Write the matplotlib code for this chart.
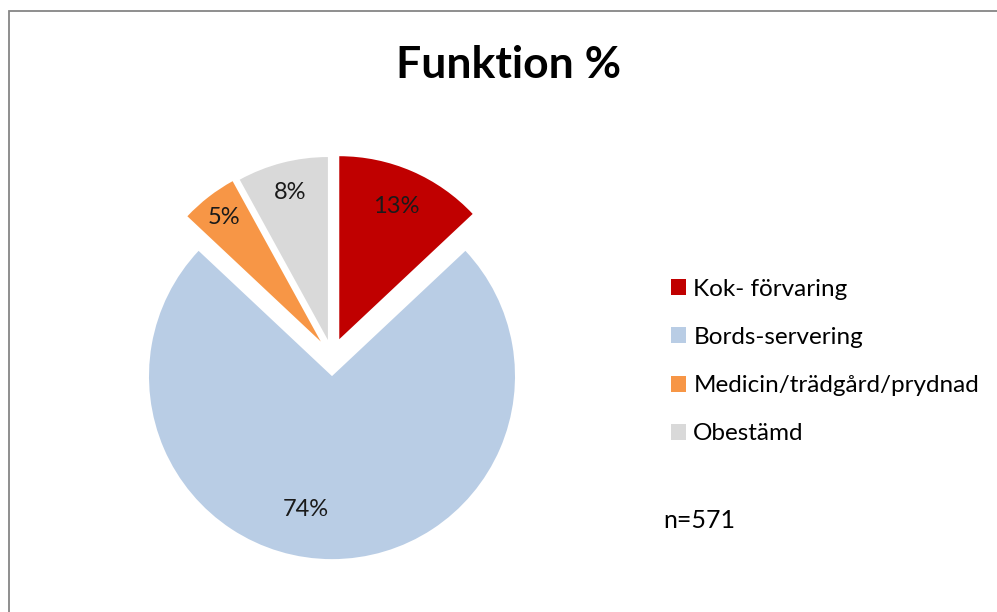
import matplotlib.pyplot as plt
from matplotlib.patches import Rectangle
import numpy as np

plt.rcParams['font.family'] = ['Lato', 'DejaVu Sans']

categories = ['Kok- förvaring', 'Bords-servering', 'Medicin/trädgård/prydnad', 'Obestämd']
shares = [13, 74, 5, 8]
colors = ['#C00000', '#B9CDE5', '#F79646', '#D9D9D9']
n_total = 571

W, H = 997, 612
R = 183.0          # pie radius in pixels
CX, CY = 332, 356  # pie centre in pixels from top-left

fig = plt.figure(figsize=(W / 100, H / 100), dpi=100)
fig.patch.set_facecolor('white')

# outer chart frame, open to the right and bottom
fig.patches.append(Rectangle((9 / W, -0.1), 1.2, (H - 11) / H + 0.1, transform=fig.transFigure,
                             fill=False, edgecolor='#868686', linewidth=1.3))

ax = fig.add_axes([0, 0, 1, 1])
wedges, _ = ax.pie(shares, colors=colors, startangle=90, counterclock=False,
                   explode=[0.1, 0.11, 0.1, 0.09], radius=1,
                   wedgeprops=dict(linewidth=0))
ax.set_xlim(-CX / R, (W - CX) / R)
ax.set_ylim(-(H - CY) / R, CY / R)
ax.set_aspect('equal', adjustable='box')
ax.axis('off')

# percentage labels inside each slice
label_dist = [0.79, 0.74, 0.86, 0.83]
label_turn = [0, -11, 0, 0]
for w, s, d, t in zip(wedges, shares, label_dist, label_turn):
    mid = np.deg2rad((w.theta1 + w.theta2) / 2 + t)
    x0, y0 = w.center
    ax.text(x0 + d * np.cos(mid), y0 + d * np.sin(mid), f'{s}%',
            ha='center', va='center', fontsize=17, color='#1a1a1a')

fig.text(509 / W, 1 - 65 / H, 'Funktion %', ha='center', va='center',
         fontsize=32, fontweight='bold', color='black')

leg = fig.legend(wedges, categories, loc='upper left', bbox_to_anchor=(661 / W, 1 - 269 / H),
                 frameon=False, fontsize=17.5, handlelength=0.63, handleheight=0.63,
                 handletextpad=0.3, labelspacing=1.12, borderaxespad=0)

fig.text(663 / W, 1 - 521 / H, f'n={n_total}', ha='left', va='center', fontsize=18, color='black')

fig.savefig('out.png', dpi=100, facecolor='white')
